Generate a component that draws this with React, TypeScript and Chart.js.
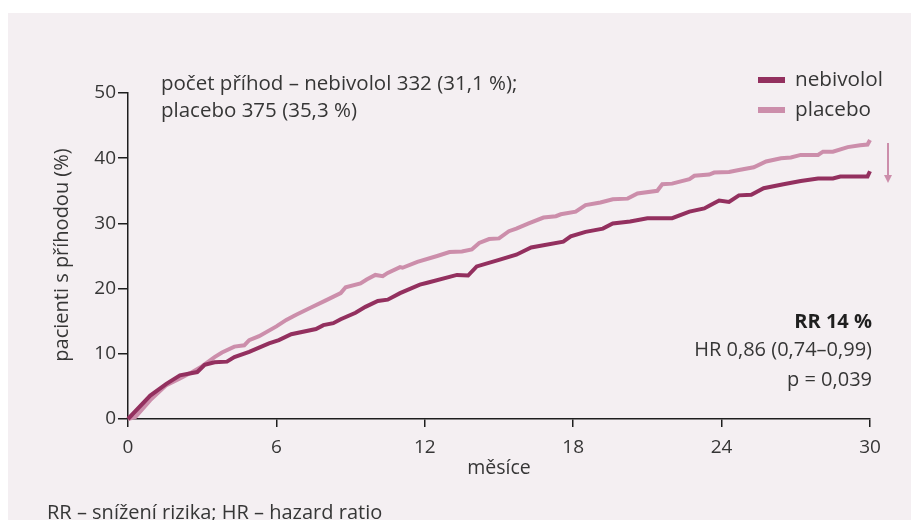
import React, { useEffect, useRef } from "react";
import { Chart, registerables } from "chart.js";

Chart.register(...registerables);

// ---- data ----
const nebivololMonths = [0, 0.9, 1.55, 2.1, 2.8, 3.1, 3.5, 4.0, 4.3, 4.9, 5.7, 6.1, 6.6, 7.6, 7.9, 8.3, 8.6, 9.2, 9.6, 10.1, 10.5, 11.0, 11.8, 12.1, 13.0, 13.3, 13.75, 14.1, 15.0, 15.7, 16.3, 17.6, 17.9, 18.5, 19.2, 19.6, 20.3, 21.0, 22.0, 22.7, 23.3, 23.5, 23.9, 24.3, 24.7, 25.2, 25.7, 26.5, 27.2, 27.9, 28.5, 28.8, 29.9, 30.0];
const nebivololValues = [0, 3.6, 5.4, 6.7, 7.2, 8.3, 8.7, 8.8, 9.5, 10.3, 11.6, 12.1, 13.0, 13.8, 14.4, 14.7, 15.3, 16.3, 17.2, 18.1, 18.3, 19.3, 20.6, 20.9, 21.8, 22.1, 22.0, 23.4, 24.4, 25.2, 26.3, 27.2, 28.0, 28.7, 29.2, 30.0, 30.3, 30.8, 30.8, 31.8, 32.3, 32.7, 33.5, 33.3, 34.3, 34.4, 35.4, 36.0, 36.5, 36.9, 36.9, 37.2, 37.2, 38.0];

const placeboMonths = [0, 0.3, 0.9, 1.55, 2.1, 2.5, 3.0, 3.5, 3.8, 4.3, 4.7, 4.9, 5.3, 6.0, 6.4, 6.8, 7.4, 8.0, 8.6, 8.8, 9.4, 9.65, 10.0, 10.3, 10.5, 11.0, 11.1, 11.7, 12.5, 13.0, 13.5, 13.9, 14.2, 14.6, 15.0, 15.4, 15.7, 16.2, 16.8, 17.3, 17.5, 18.1, 18.5, 19.1, 19.6, 20.2, 20.6, 21.4, 21.6, 22.0, 22.7, 22.9, 23.5, 23.7, 24.3, 24.7, 25.3, 25.8, 26.4, 26.8, 27.2, 27.9, 28.1, 28.5, 29.1, 29.6, 29.9, 30.0];
const placeboValues = [0, 0.3, 2.9, 5.2, 6.2, 7.0, 8.1, 9.5, 10.2, 11.1, 11.3, 12.1, 12.7, 14.2, 15.2, 16.0, 17.1, 18.2, 19.3, 20.2, 20.8, 21.4, 22.1, 21.9, 22.4, 23.3, 23.2, 24.1, 25.0, 25.6, 25.7, 26.0, 27.0, 27.6, 27.7, 28.8, 29.2, 30.0, 30.9, 31.1, 31.4, 31.8, 32.8, 33.2, 33.7, 33.8, 34.6, 35.0, 36.0, 36.1, 36.8, 37.3, 37.5, 37.8, 37.9, 38.2, 38.6, 39.5, 40.0, 40.1, 40.5, 40.5, 41.0, 41.0, 41.7, 42.0, 42.1, 42.8];

const xTickValues = [0, 6, 12, 18, 24, 30];
const yTickValues = [0, 10, 20, 30, 40, 50];
const seriesLabels = ["nebivolol", "placebo"];
const annotationLines = ["počet příhod – nebivolol 332 (31,1 %);", "placebo 375 (35,3 %)"];
const statLines = ["RR 14 %", "HR 0,86 (0,74–0,99)", "p = 0,039"];
const xTitle = "měsíce";
const yTitle = "pacienti s příhodou (%)";
const footnote = "RR – snížení rizika; HR – hazard ratio";

// ---- styles ----
const FONT = "'Open Sans', 'Noto Sans', sans-serif";
const TEXT = "#363636";
const AXIS = "#1e1e1e";
const NEB = "#93305f";
const PLA = "#cc8eab";
const PANEL = "#f4eff2";

const toPoints = (xs: number[], ys: number[]) => xs.map((x, i) => ({ x, y: ys[i] }));

const decorPlugin = {
  id: "decor",
  beforeDraw(chart: any) {
    const ctx = chart.ctx;
    ctx.save();
    ctx.fillStyle = "#ffffff";
    ctx.fillRect(0, 0, chart.width, chart.height);
    ctx.fillStyle = PANEL;
    ctx.fillRect(8, 13, chart.width - 8, chart.height - 13);
    ctx.restore();
  },
  afterDraw(chart: any) {
    const ctx = chart.ctx;
    ctx.save();
    ctx.fillStyle = TEXT;
    ctx.textBaseline = "middle";

    // annotation top-left
    ctx.font = `20.5px ${FONT}`;
    ctx.textAlign = "left";
    ctx.fillText(annotationLines[0], 161, 84);
    ctx.fillText(annotationLines[1], 161, 111);

    // legend
    const colors = [NEB, PLA];
    const ly = [80, 110];
    ctx.font = `20.7px ${FONT}`;
    seriesLabels.forEach((lab, i) => {
      ctx.fillStyle = colors[i];
      ctx.fillRect(758, ly[i] - 3, 27, 6);
      ctx.fillStyle = TEXT;
      ctx.fillText(lab, 795, ly[i]);
    });

    // arrow
    ctx.strokeStyle = PLA;
    ctx.fillStyle = PLA;
    ctx.lineWidth = 2;
    ctx.beginPath();
    ctx.moveTo(888, 143);
    ctx.lineTo(888, 176);
    ctx.stroke();
    ctx.beginPath();
    ctx.moveTo(884, 175);
    ctx.lineTo(892, 175);
    ctx.lineTo(888, 183);
    ctx.closePath();
    ctx.fill();

    // stats
    ctx.fillStyle = "#1f1f1f";
    ctx.textAlign = "right";
    ctx.font = `bold 20px ${FONT}`;
    ctx.fillText(statLines[0], 872, 322);
    ctx.fillStyle = TEXT;
    ctx.font = `20px ${FONT}`;
    ctx.fillText(statLines[1], 872, 350);
    ctx.fillText(statLines[2], 872, 380);

    // axis titles
    ctx.textAlign = "center";
    ctx.font = `19.5px ${FONT}`;
    ctx.fillText(xTitle, 499, 468);
    ctx.save();
    ctx.translate(62, 255);
    ctx.rotate(-Math.PI / 2);
    ctx.font = `20px ${FONT}`;
    ctx.fillText(yTitle, 0, 0);
    ctx.restore();

    // footnote
    ctx.textAlign = "left";
    ctx.font = `20px ${FONT}`;
    ctx.fillText(footnote, 47, 513);
    ctx.restore();
  },
};

export default function App() {
  const ref = useRef<HTMLCanvasElement | null>(null);

  useEffect(() => {
    if (!ref.current) return;
    const chart = new Chart(ref.current, {
      type: "line",
      data: {
        datasets: [
          {
            label: seriesLabels[0],
            data: toPoints(nebivololMonths, nebivololValues),
            borderColor: NEB,
            borderWidth: 4,
            pointRadius: 0,
            tension: 0,
            clip: 6,
          },
          {
            label: seriesLabels[1],
            data: toPoints(placeboMonths, placeboValues),
            borderColor: PLA,
            borderWidth: 4,
            pointRadius: 0,
            tension: 0,
            clip: 6,
          },
        ],
      },
      options: {
        animation: false,
        responsive: false,
        events: [],
        layout: { padding: { left: 0, top: 93, right: 41, bottom: 0 } },
        plugins: { legend: { display: false }, tooltip: { enabled: false } },
        scales: {
          x: {
            type: "linear",
            min: 0,
            max: 30,
            afterBuildTicks: (s: any) => {
              s.ticks = xTickValues.map((v) => ({ value: v }));
            },
            afterFit: (s: any) => {
              s.height = 101;
            },
            border: { display: true, color: AXIS, width: 1.5 },
            grid: { drawOnChartArea: false, drawTicks: true, tickLength: 8, color: AXIS, lineWidth: 1.5 },
            ticks: { color: TEXT, font: { family: FONT, size: 19 }, padding: 9, maxRotation: 0 },
          },
          y: {
            type: "linear",
            min: 0,
            max: 50,
            afterBuildTicks: (s: any) => {
              s.ticks = yTickValues.map((v) => ({ value: v }));
            },
            afterFit: (s: any) => {
              s.width = 128;
            },
            border: { display: true, color: AXIS, width: 1.5 },
            grid: { drawOnChartArea: false, drawTicks: true, tickLength: 10, color: AXIS, lineWidth: 1.5 },
            ticks: { color: TEXT, font: { family: FONT, size: 19 }, padding: 2 },
          },
        },
      },
      plugins: [decorPlugin],
    });
    return () => chart.destroy();
  }, []);

  return (
    <div style={{ position: "absolute", left: 0, top: 0, width: 911, height: 520, overflow: "hidden" }}>
      <canvas ref={ref} width={911} height={520} style={{ width: 911, height: 520, display: "block" }} />
    </div>
  );
}
